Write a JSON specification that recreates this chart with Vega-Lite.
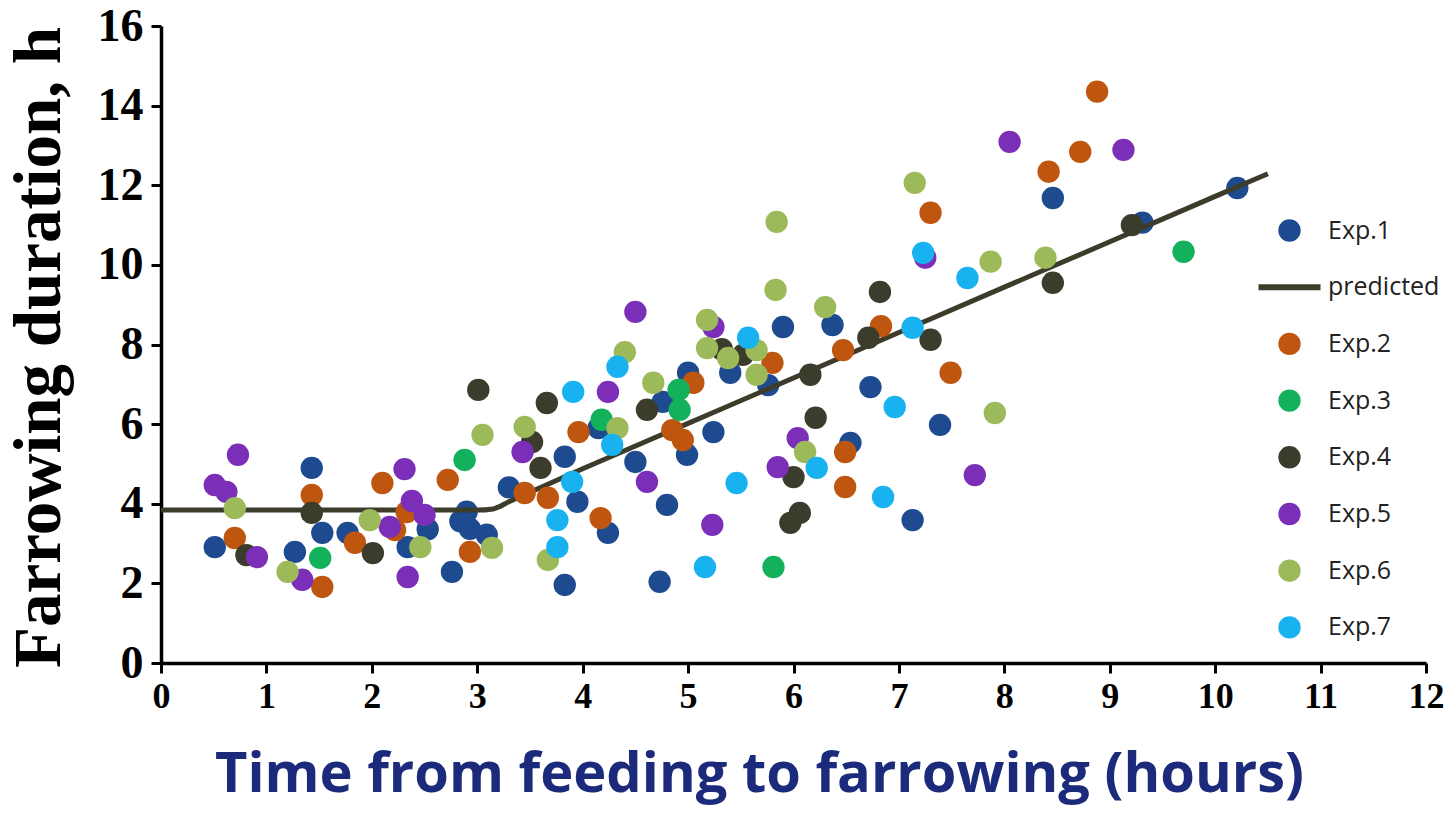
{
  "$schema": "https://vega.github.io/schema/vega-lite/v6.json",
  "width": 1265,
  "height": 637,
  "autosize": {"type": "none"},
  "padding": {"left": 161, "top": 26, "right": 29, "bottom": 159},
  "background": "white",
  "config": {
    "view": {"stroke": null},
    "axis": {
      "grid": false,
      "domainColor": "black",
      "domainWidth": 3.5,
      "tickColor": "black",
      "tickWidth": 3,
      "tickSize": 10,
      "labelFont": "Liberation Serif",
      "labelFontWeight": "bold",
      "labelColor": "black",
      "labelFlush": false
    }
  },
  "datasets": {
    "obs": [
      {"series": "Exp.1", "x": 0.51, "y": 2.91},
      {"series": "Exp.1", "x": 1.27, "y": 2.79},
      {"series": "Exp.1", "x": 1.43, "y": 4.9},
      {"series": "Exp.1", "x": 1.53, "y": 3.27},
      {"series": "Exp.1", "x": 1.77, "y": 3.27},
      {"series": "Exp.1", "x": 2.53, "y": 3.36},
      {"series": "Exp.1", "x": 2.34, "y": 2.91},
      {"series": "Exp.1", "x": 2.9, "y": 3.8},
      {"series": "Exp.1", "x": 2.84, "y": 3.56},
      {"series": "Exp.1", "x": 2.93, "y": 3.37},
      {"series": "Exp.1", "x": 3.09, "y": 3.22},
      {"series": "Exp.1", "x": 2.76, "y": 2.29},
      {"series": "Exp.1", "x": 3.3, "y": 4.41},
      {"series": "Exp.1", "x": 3.83, "y": 5.18},
      {"series": "Exp.1", "x": 3.95, "y": 4.05},
      {"series": "Exp.1", "x": 3.83, "y": 1.96},
      {"series": "Exp.1", "x": 4.15, "y": 5.9},
      {"series": "Exp.1", "x": 4.24, "y": 3.27},
      {"series": "Exp.1", "x": 4.5, "y": 5.05},
      {"series": "Exp.1", "x": 4.8, "y": 3.97},
      {"series": "Exp.1", "x": 4.73, "y": 2.04},
      {"series": "Exp.1", "x": 4.76, "y": 6.56},
      {"series": "Exp.1", "x": 5.0, "y": 7.29},
      {"series": "Exp.1", "x": 4.99, "y": 5.23},
      {"series": "Exp.1", "x": 5.24, "y": 5.8},
      {"series": "Exp.1", "x": 5.4, "y": 7.29},
      {"series": "Exp.1", "x": 5.76, "y": 6.98},
      {"series": "Exp.1", "x": 5.9, "y": 8.44},
      {"series": "Exp.1", "x": 6.37, "y": 8.49},
      {"series": "Exp.1", "x": 6.54, "y": 5.53},
      {"series": "Exp.1", "x": 6.73, "y": 6.93},
      {"series": "Exp.1", "x": 7.39, "y": 5.98},
      {"series": "Exp.1", "x": 7.13, "y": 3.59},
      {"series": "Exp.1", "x": 8.46, "y": 11.68},
      {"series": "Exp.1", "x": 9.31, "y": 11.06},
      {"series": "Exp.1", "x": 10.21, "y": 11.93},
      {"series": "Exp.2", "x": 0.7, "y": 3.14},
      {"series": "Exp.2", "x": 1.43, "y": 4.22},
      {"series": "Exp.2", "x": 1.53, "y": 1.91},
      {"series": "Exp.2", "x": 1.84, "y": 3.02},
      {"series": "Exp.2", "x": 2.1, "y": 4.52},
      {"series": "Exp.2", "x": 2.22, "y": 3.34},
      {"series": "Exp.2", "x": 2.33, "y": 3.79},
      {"series": "Exp.2", "x": 2.72, "y": 4.6},
      {"series": "Exp.2", "x": 2.93, "y": 2.79},
      {"series": "Exp.2", "x": 3.45, "y": 4.27},
      {"series": "Exp.2", "x": 3.67, "y": 4.15},
      {"series": "Exp.2", "x": 3.96, "y": 5.8},
      {"series": "Exp.2", "x": 4.17, "y": 3.64},
      {"series": "Exp.2", "x": 4.85, "y": 5.85},
      {"series": "Exp.2", "x": 4.95, "y": 5.6},
      {"series": "Exp.2", "x": 5.05, "y": 7.04},
      {"series": "Exp.2", "x": 5.8, "y": 7.54},
      {"series": "Exp.2", "x": 6.47, "y": 7.86},
      {"series": "Exp.2", "x": 6.49, "y": 5.3},
      {"series": "Exp.2", "x": 6.49, "y": 4.42},
      {"series": "Exp.2", "x": 6.83, "y": 8.46},
      {"series": "Exp.2", "x": 7.3, "y": 11.31},
      {"series": "Exp.2", "x": 7.49, "y": 7.29},
      {"series": "Exp.2", "x": 8.42, "y": 12.34},
      {"series": "Exp.2", "x": 8.72, "y": 12.84},
      {"series": "Exp.2", "x": 8.88, "y": 14.35},
      {"series": "Exp.3", "x": 1.51, "y": 2.64},
      {"series": "Exp.3", "x": 2.88, "y": 5.1},
      {"series": "Exp.3", "x": 4.18, "y": 6.11},
      {"series": "Exp.3", "x": 4.91, "y": 6.86},
      {"series": "Exp.3", "x": 4.92, "y": 6.36},
      {"series": "Exp.3", "x": 5.81, "y": 2.41},
      {"series": "Exp.3", "x": 9.7, "y": 10.33},
      {"series": "Exp.4", "x": 0.81, "y": 2.71},
      {"series": "Exp.4", "x": 1.43, "y": 3.77},
      {"series": "Exp.4", "x": 2.01, "y": 2.76},
      {"series": "Exp.4", "x": 3.01, "y": 6.86},
      {"series": "Exp.4", "x": 3.52, "y": 5.55},
      {"series": "Exp.4", "x": 3.6, "y": 4.9},
      {"series": "Exp.4", "x": 3.66, "y": 6.53},
      {"series": "Exp.4", "x": 4.61, "y": 6.36},
      {"series": "Exp.4", "x": 5.32, "y": 7.88},
      {"series": "Exp.4", "x": 5.52, "y": 7.74},
      {"series": "Exp.4", "x": 6.0, "y": 4.67},
      {"series": "Exp.4", "x": 6.06, "y": 3.77},
      {"series": "Exp.4", "x": 5.97, "y": 3.52},
      {"series": "Exp.4", "x": 6.16, "y": 7.24},
      {"series": "Exp.4", "x": 6.21, "y": 6.16},
      {"series": "Exp.4", "x": 6.71, "y": 8.17},
      {"series": "Exp.4", "x": 6.82, "y": 9.32},
      {"series": "Exp.4", "x": 7.3, "y": 8.12},
      {"series": "Exp.4", "x": 8.46, "y": 9.55},
      {"series": "Exp.4", "x": 9.21, "y": 11.0},
      {"series": "Exp.5", "x": 0.51, "y": 4.47},
      {"series": "Exp.5", "x": 0.62, "y": 4.3},
      {"series": "Exp.5", "x": 0.73, "y": 5.23},
      {"series": "Exp.5", "x": 0.91, "y": 2.66},
      {"series": "Exp.5", "x": 1.34, "y": 2.09},
      {"series": "Exp.5", "x": 2.17, "y": 3.42},
      {"series": "Exp.5", "x": 2.31, "y": 4.87},
      {"series": "Exp.5", "x": 2.38, "y": 4.07},
      {"series": "Exp.5", "x": 2.5, "y": 3.72},
      {"series": "Exp.5", "x": 2.34, "y": 2.16},
      {"series": "Exp.5", "x": 3.43, "y": 5.3},
      {"series": "Exp.5", "x": 4.24, "y": 6.81},
      {"series": "Exp.5", "x": 4.5, "y": 8.82},
      {"series": "Exp.5", "x": 4.61, "y": 4.55},
      {"series": "Exp.5", "x": 5.24, "y": 8.44},
      {"series": "Exp.5", "x": 5.23, "y": 3.47},
      {"series": "Exp.5", "x": 5.85, "y": 4.92},
      {"series": "Exp.5", "x": 6.04, "y": 5.65},
      {"series": "Exp.5", "x": 7.25, "y": 10.18},
      {"series": "Exp.5", "x": 7.72, "y": 4.72},
      {"series": "Exp.5", "x": 8.05, "y": 13.09},
      {"series": "Exp.5", "x": 9.13, "y": 12.89},
      {"series": "Exp.6", "x": 0.7, "y": 3.89},
      {"series": "Exp.6", "x": 1.2, "y": 2.29},
      {"series": "Exp.6", "x": 1.98, "y": 3.59},
      {"series": "Exp.6", "x": 2.46, "y": 2.91},
      {"series": "Exp.6", "x": 3.05, "y": 5.73},
      {"series": "Exp.6", "x": 3.14, "y": 2.89},
      {"series": "Exp.6", "x": 3.45, "y": 5.93},
      {"series": "Exp.6", "x": 3.67, "y": 2.59},
      {"series": "Exp.6", "x": 4.33, "y": 5.9},
      {"series": "Exp.6", "x": 4.4, "y": 7.81},
      {"series": "Exp.6", "x": 4.67, "y": 7.04},
      {"series": "Exp.6", "x": 5.18, "y": 8.62},
      {"series": "Exp.6", "x": 5.18, "y": 7.91},
      {"series": "Exp.6", "x": 5.38, "y": 7.66},
      {"series": "Exp.6", "x": 5.65, "y": 7.86},
      {"series": "Exp.6", "x": 5.65, "y": 7.24},
      {"series": "Exp.6", "x": 5.83, "y": 9.37},
      {"series": "Exp.6", "x": 5.84, "y": 11.08},
      {"series": "Exp.6", "x": 6.11, "y": 5.3},
      {"series": "Exp.6", "x": 6.3, "y": 8.94},
      {"series": "Exp.6", "x": 7.15, "y": 12.06},
      {"series": "Exp.6", "x": 7.87, "y": 10.08},
      {"series": "Exp.6", "x": 7.91, "y": 6.28},
      {"series": "Exp.6", "x": 8.39, "y": 10.18},
      {"series": "Exp.7", "x": 3.76, "y": 3.59},
      {"series": "Exp.7", "x": 3.76, "y": 2.91},
      {"series": "Exp.7", "x": 3.9, "y": 4.55},
      {"series": "Exp.7", "x": 3.91, "y": 6.81},
      {"series": "Exp.7", "x": 4.28, "y": 5.48},
      {"series": "Exp.7", "x": 4.33, "y": 7.44},
      {"series": "Exp.7", "x": 5.16, "y": 2.41},
      {"series": "Exp.7", "x": 5.46, "y": 4.52},
      {"series": "Exp.7", "x": 5.57, "y": 8.17},
      {"series": "Exp.7", "x": 6.22, "y": 4.9},
      {"series": "Exp.7", "x": 6.85, "y": 4.17},
      {"series": "Exp.7", "x": 6.96, "y": 6.43},
      {"series": "Exp.7", "x": 7.13, "y": 8.42},
      {"series": "Exp.7", "x": 7.23, "y": 10.3},
      {"series": "Exp.7", "x": 7.65, "y": 9.67}
    ],
    "pred": [
      {"series": "predicted", "x": 0, "y": 3.84},
      {"series": "predicted", "x": 1, "y": 3.84},
      {"series": "predicted", "x": 2, "y": 3.84},
      {"series": "predicted", "x": 3.0, "y": 3.84},
      {"series": "predicted", "x": 3.15, "y": 3.87},
      {"series": "predicted", "x": 3.3, "y": 4.05},
      {"series": "predicted", "x": 3.5, "y": 4.29},
      {"series": "predicted", "x": 4, "y": 4.88},
      {"series": "predicted", "x": 5, "y": 6.02},
      {"series": "predicted", "x": 6, "y": 7.16},
      {"series": "predicted", "x": 7, "y": 8.3},
      {"series": "predicted", "x": 8, "y": 9.44},
      {"series": "predicted", "x": 9, "y": 10.58},
      {"series": "predicted", "x": 10, "y": 11.72},
      {"series": "predicted", "x": 10.5, "y": 12.29}
    ]
  },
  "encoding": {
    "x": {
      "field": "x",
      "type": "quantitative",
      "scale": {"domain": [0, 12], "nice": false, "zero": true},
      "axis": {
        "values": [0, 1, 2, 3, 4, 5, 6, 7, 8, 9, 10, 11, 12],
        "labelFontSize": 36,
        "labelPadding": 6,
        "title": "Time from feeding to farrowing (hours)",
        "titleFont": "Open Sans",
        "titleFontSize": 56,
        "titleFontWeight": "bold",
        "titleColor": "#1b2a7b",
        "titleBaseline": "alphabetic",
        "titleX": 598,
        "titleY": 128
      }
    },
    "y": {
      "field": "y",
      "type": "quantitative",
      "scale": {"domain": [0, 16], "nice": false},
      "axis": {
        "values": [0, 2, 4, 6, 8, 10, 12, 14, 16],
        "labelFontSize": 46,
        "labelPadding": 8,
        "title": "Farrowing duration, h",
        "titleFont": "Liberation Serif",
        "titleFontSize": 67,
        "titleFontWeight": "bold",
        "titleColor": "black",
        "titleBaseline": "alphabetic",
        "titleAlign": "center",
        "titleAngle": 270,
        "titleX": -102,
        "titleY": 321
      }
    },
    "color": {
      "field": "series",
      "type": "nominal",
      "scale": {
        "domain": ["Exp.1", "predicted", "Exp.2", "Exp.3", "Exp.4", "Exp.5", "Exp.6", "Exp.7"],
        "range": ["#1e4b8f", "#3d3b2a", "#bf5610", "#13b15c", "#3c3c2c", "#7b2fb8", "#9cba5a", "#19b2f0"]
      },
      "legend": {
        "title": null,
        "orient": "none",
        "legendX": 1116,
        "legendY": 192,
        "padding": 0,
        "symbolType": "circle",
        "symbolSize": 500,
        "symbolStrokeWidth": 0,
        "labelFont": "Open Sans",
        "labelFontSize": 25,
        "labelColor": "#222222",
        "labelOffset": 26,
        "rowPadding": 30.7,
        "encode": {
          "symbols": {
            "update": {
              "shape": {"signal": "datum.value === 'predicted' ? 'stroke' : 'circle'"},
              "size": {"signal": "datum.value === 'predicted' ? 3844 : 500"},
              "strokeWidth": {"signal": "datum.value === 'predicted' ? 6 : 0"},
              "stroke": {"scale": "color", "field": "value"},
              "fill": {"scale": "color", "field": "value"},
              "opacity": {"value": 1}
            }
          }
        }
      }
    }
  },
  "layer": [
    {
      "data": {"name": "obs"},
      "transform": [{"filter": "datum.series === 'Exp.1'"}],
      "mark": {"type": "circle", "size": 500, "opacity": 1}
    },
    {
      "data": {"name": "pred"},
      "mark": {"type": "line", "strokeWidth": 5, "interpolate": "monotone"}
    },
    {
      "data": {"name": "obs"},
      "transform": [{"filter": "datum.series !== 'Exp.1'"}],
      "mark": {"type": "circle", "size": 500, "opacity": 1}
    }
  ]
}
